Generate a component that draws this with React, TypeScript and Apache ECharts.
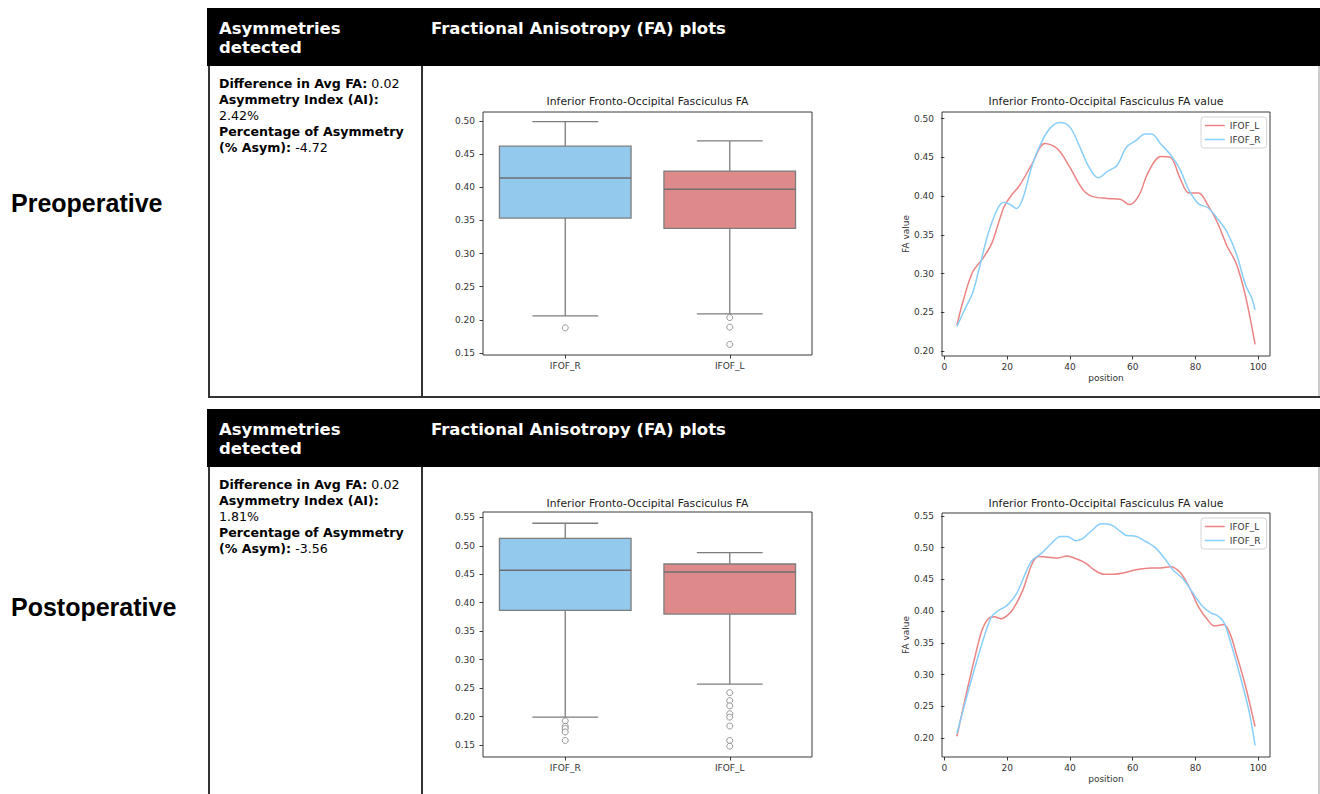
import React, { useEffect, useRef } from "react";
import * as echarts from "echarts";

// ---------- data ----------
const boxCategories = ["IFOF_R", "IFOF_L"];
// [lower whisker, Q1, median, Q3, upper whisker]
const preBoxR = [0.206, 0.3535, 0.414, 0.462, 0.499];
const preBoxL = [0.209, 0.338, 0.397, 0.4245, 0.47];
const preOutR = [0.188];
const preOutL = [0.2035, 0.189, 0.163];
const postBoxR = [0.199, 0.3866, 0.457, 0.513, 0.5395];
const postBoxL = [0.257, 0.38, 0.454, 0.468, 0.488];
const postOutR = [0.1925, 0.183, 0.179, 0.173, 0.158];
const postOutL = [0.242, 0.228, 0.219, 0.205, 0.199, 0.1834, 0.158, 0.148];

const prePosL = [4, 6, 9, 12, 15, 17, 19, 21, 24, 28, 32, 36, 40, 44, 47, 52, 56, 59, 62, 65, 69, 72, 75, 78, 81, 84, 87, 90, 93, 96, 99];
const preValL = [0.2335, 0.265, 0.302, 0.318, 0.338, 0.362, 0.386, 0.399, 0.414, 0.442, 0.468, 0.461, 0.437, 0.409, 0.3996, 0.397, 0.396, 0.389, 0.401, 0.431, 0.451, 0.45, 0.424, 0.404, 0.404, 0.388, 0.366, 0.336, 0.313, 0.27, 0.2086];
const prePosR = [4, 7, 9, 11, 14, 17, 19, 21, 23, 25, 28, 31, 34, 37, 40, 43, 46, 49, 52, 55, 58, 61, 64, 66, 69, 72, 75, 78, 81, 84, 87, 90, 93, 96, 98, 99];
const preValR = [0.232, 0.258, 0.275, 0.305, 0.352, 0.384, 0.392, 0.389, 0.384, 0.397, 0.44, 0.47, 0.489, 0.495, 0.489, 0.465, 0.438, 0.4236, 0.432, 0.4395, 0.463, 0.4717, 0.48, 0.48, 0.467, 0.4536, 0.435, 0.407, 0.39, 0.385, 0.371, 0.354, 0.326, 0.285, 0.268, 0.253];

const postPosL = [4, 7, 10, 12, 14, 16, 18, 20, 22, 25, 28, 30, 33, 36, 39, 42, 45, 48, 51, 54, 57, 60, 63, 66, 69, 72, 75, 78, 81, 84, 86, 89, 91, 93, 96, 99];
const postValL = [0.203, 0.27, 0.333, 0.37, 0.388, 0.391, 0.388, 0.393, 0.404, 0.433, 0.475, 0.486, 0.485, 0.4835, 0.4866, 0.4824, 0.4756, 0.464, 0.458, 0.458, 0.46, 0.464, 0.4667, 0.468, 0.468, 0.47, 0.4615, 0.438, 0.4064, 0.3855, 0.3766, 0.379, 0.3645, 0.333, 0.281, 0.218];
const postPosR = [4, 8, 12, 15, 17, 20, 23, 26, 28, 31, 34, 37, 39, 42, 44, 47, 50, 53, 56, 58, 61, 64, 67, 70, 73, 76, 79, 82, 85, 87, 89, 91, 94, 97, 99];
const postValR = [0.207, 0.281, 0.349, 0.391, 0.4, 0.409, 0.4274, 0.4615, 0.48, 0.4913, 0.506, 0.5175, 0.5175, 0.511, 0.514, 0.527, 0.5374, 0.536, 0.526, 0.519, 0.518, 0.51, 0.5007, 0.484, 0.464, 0.451, 0.43, 0.409, 0.397, 0.393, 0.383, 0.354, 0.302, 0.244, 0.1885];

const boxTicksPre = [0.15, 0.2, 0.25, 0.3, 0.35, 0.4, 0.45, 0.5];
const boxTicksPost = [0.15, 0.2, 0.25, 0.3, 0.35, 0.4, 0.45, 0.5, 0.55];
const lineTicksPre = [0.2, 0.25, 0.3, 0.35, 0.4, 0.45, 0.5];
const lineTicksPost = [0.2, 0.25, 0.3, 0.35, 0.4, 0.45, 0.5, 0.55];
const posTicks = [0, 20, 40, 60, 80, 100];

const preStats = ["0.02", "2.42%", "-4.72"];
const postStats = ["0.02", "1.81%", "-3.56"];

// ---------- styles ----------
const MPL = "DejaVu Sans";
const boxFill = ["#93c9ed", "#df8a8a"];
const lineRed = "#ec8383";
const lineBlue = "#87cefa";
const spine = "#3a3a3a";
const boxStroke = "#7d7d7d";

const pairs = (xs: number[], ys: number[]) => xs.map((x, i) => [x, ys[i]]);

function boxSeries(axis: number, r: number[], l: number[]) {
  return {
    type: "custom",
    xAxisIndex: axis,
    yAxisIndex: axis,
    encode: { x: 0, y: [1, 2, 3, 4, 5] },
    data: [
      [0, ...r],
      [1, ...l],
    ],
    renderItem: (params: any, api: any) => {
      const idx = api.value(0);
      const lo = api.coord([idx, api.value(1)]);
      const q1 = api.coord([idx, api.value(2)]);
      const md = api.coord([idx, api.value(3)]);
      const q3 = api.coord([idx, api.value(4)]);
      const hi = api.coord([idx, api.value(5)]);
      const band = api.size([1, 0])[0];
      const half = band * 0.4;
      const cap = band * 0.2;
      const cx = lo[0];
      const ls = { stroke: boxStroke, lineWidth: 1.3 };
      return {
        type: "group",
        children: [
          { type: "line", shape: { x1: cx, y1: q3[1], x2: cx, y2: hi[1] }, style: ls },
          { type: "line", shape: { x1: cx, y1: q1[1], x2: cx, y2: lo[1] }, style: ls },
          { type: "line", shape: { x1: cx - cap, y1: hi[1], x2: cx + cap, y2: hi[1] }, style: ls },
          { type: "line", shape: { x1: cx - cap, y1: lo[1], x2: cx + cap, y2: lo[1] }, style: ls },
          {
            type: "rect",
            shape: { x: cx - half, y: q3[1], width: half * 2, height: q1[1] - q3[1] },
            style: { fill: boxFill[idx], stroke: boxStroke, lineWidth: 1.3 },
          },
          { type: "line", shape: { x1: cx - half, y1: md[1], x2: cx + half, y2: md[1] }, style: { stroke: "#6e6e6e", lineWidth: 1.4 } },
        ],
      };
    },
  };
}

function outliers(axis: number, r: number[], l: number[]) {
  return {
    type: "scatter",
    xAxisIndex: axis,
    yAxisIndex: axis,
    symbol: "circle",
    symbolSize: 6,
    itemStyle: { color: "#ffffff", borderColor: "#7d7d7d", borderWidth: 1 },
    data: [...r.map((v) => [0, v]), ...l.map((v) => [1, v])],
  };
}

function lineSeries(axis: number, name: string, color: string, data: number[][]) {
  return {
    type: "line",
    name,
    xAxisIndex: axis,
    yAxisIndex: axis,
    symbol: "none",
    smooth: 0.35,
    lineStyle: { color, width: 1.5 },
    itemStyle: { color },
    data,
  };
}

const tickLabel = { fontFamily: MPL, fontSize: 9, color: "#333" };

function catX(grid: number) {
  return {
    type: "category",
    gridIndex: grid,
    data: boxCategories,
    boundaryGap: true,
    axisLine: { show: false },
    axisTick: { show: true, alignWithLabel: true, length: 3.5, lineStyle: { color: spine } },
    axisLabel: { ...tickLabel, margin: 6 },
    splitLine: { show: false },
  };
}

function valY(grid: number, min: number, max: number, ticks: number[], name?: string) {
  return {
    type: "value",
    gridIndex: grid,
    min,
    max,
    name,
    nameLocation: "middle",
    nameGap: 31,
    nameTextStyle: { fontFamily: MPL, fontSize: 9, color: "#333" },
    axisLine: { show: false },
    axisTick: { show: true, length: 3.5, lineStyle: { color: spine }, customValues: ticks },
    axisLabel: { ...tickLabel, margin: 8, customValues: ticks, formatter: (v: number) => v.toFixed(2) },
    splitLine: { show: false },
  };
}

function posX(grid: number) {
  return {
    type: "value",
    gridIndex: grid,
    min: -0.75,
    max: 103.75,
    name: "position",
    nameLocation: "middle",
    nameGap: 17,
    nameTextStyle: { fontFamily: MPL, fontSize: 9, color: "#333" },
    axisLine: { show: false },
    axisTick: { show: true, length: 3.5, lineStyle: { color: spine }, customValues: posTicks },
    axisLabel: { ...tickLabel, margin: 6, customValues: posTicks, formatter: (v: number) => String(Math.round(v)) },
    splitLine: { show: false },
  };
}

function gridAt(left: number, top: number, width: number, height: number) {
  return { left, top, width, height, show: true, borderColor: spine, borderWidth: 1, backgroundColor: "transparent", containLabel: false };
}

function legendAt(top: number) {
  return {
    orient: "vertical",
    left: 1201,
    top,
    data: ["IFOF_L", "IFOF_R"],
    itemWidth: 20,
    itemHeight: 9,
    itemGap: 5,
    padding: [4, 6, 4, 3],
    borderColor: "#d4d4d4",
    borderWidth: 1,
    borderRadius: 3,
    backgroundColor: "rgba(255,255,255,0.8)",
    itemStyle: { opacity: 0 },
    lineStyle: { width: 1.5 },
    textStyle: { fontFamily: MPL, fontSize: 9, color: "#333" },
    selectedMode: false,
  };
}

function panelGraphics(dy: number, stats: string[], rowLabel: string, rowY: number) {
  const hdr = { font: `bold 16.5px "${MPL}"`, fill: "#ffffff", verticalAlign: "middle", align: "left" };
  const body = (text: string, y: number) => ({
    type: "text",
    x: 219,
    y: y + dy,
    style: {
      text,
      font: `12.6px "${MPL}"`,
      fill: "#000",
      verticalAlign: "middle",
      align: "left",
      rich: { b: { fontWeight: "bold", fontSize: 12.6, fontFamily: MPL, fill: "#000" } },
    },
  });
  const bottom = dy === 0 ? 397 : 794;
  return [
    { type: "rect", shape: { x: 207, y: 8 + dy, width: 1113, height: 58 }, style: { fill: "#000" } },
    { type: "text", x: 219, y: 28 + dy, style: { ...hdr, text: "Asymmetries" } },
    { type: "text", x: 219, y: 47 + dy, style: { ...hdr, text: "detected" } },
    { type: "text", x: 431, y: 28 + dy, style: { ...hdr, text: "Fractional Anisotropy (FA) plots" } },
    body(`{b|Difference in Avg FA:} ${stats[0]}`, 83),
    body(`{b|Asymmetry Index (AI):}`, 99),
    body(stats[1], 115),
    body(`{b|Percentage of Asymmetry}`, 131),
    body(`{b|(% Asym):} ${stats[2]}`, 147),
    { type: "line", shape: { x1: 209, y1: 66 + dy, x2: 209, y2: bottom }, style: { stroke: "#333", lineWidth: 2 } },
    { type: "line", shape: { x1: 422, y1: 66 + dy, x2: 422, y2: bottom }, style: { stroke: "#333", lineWidth: 2 } },
    { type: "line", shape: { x1: 1319, y1: 66 + dy, x2: 1319, y2: bottom }, style: { stroke: "#999", lineWidth: 1 } },
    {
      type: "text",
      x: 11,
      y: rowY,
      style: { text: rowLabel, font: `bold 25px "Liberation Sans"`, fill: "#000", verticalAlign: "middle", align: "left" },
    },
  ];
}

function plotTitle(x: number, y: number, text: string) {
  return {
    type: "text",
    x,
    y,
    style: { text, font: `10.8px "${MPL}"`, fill: "#222", align: "center", verticalAlign: "middle" },
  };
}

export default function App() {
  const ref = useRef<HTMLDivElement>(null);
  useEffect(() => {
    if (!ref.current) return;
    const chart = echarts.init(ref.current, undefined, { renderer: "svg" });
    const option: any = {
      animation: false,
      backgroundColor: "#ffffff",
      grid: [gridAt(483, 112, 329, 243), gridAt(942, 112, 328, 244), gridAt(483, 512, 329, 245), gridAt(942, 513, 328, 244)],
      xAxis: [catX(0), posX(1), catX(2), posX(3)],
      yAxis: [
        valY(0, 0.147, 0.5136, boxTicksPre),
        valY(1, 0.1937, 0.5085, lineTicksPre, "FA value"),
        valY(2, 0.129, 0.5593, boxTicksPost),
        valY(3, 0.1703, 0.5545, lineTicksPost, "FA value"),
      ],
      legend: [legendAt(117), legendAt(518)],
      series: [
        boxSeries(0, preBoxR, preBoxL),
        outliers(0, preOutR, preOutL),
        lineSeries(1, "IFOF_L", lineRed, pairs(prePosL, preValL)),
        lineSeries(1, "IFOF_R", lineBlue, pairs(prePosR, preValR)),
        boxSeries(2, postBoxR, postBoxL),
        outliers(2, postOutR, postOutL),
        lineSeries(3, "IFOF_L", lineRed, pairs(postPosL, postValL)),
        lineSeries(3, "IFOF_R", lineBlue, pairs(postPosR, postValR)),
      ],
      graphic: [
        ...panelGraphics(0, preStats, "Preoperative", 203),
        { type: "line", shape: { x1: 208, y1: 397, x2: 1320, y2: 397 }, style: { stroke: "#333", lineWidth: 2 } },
        ...panelGraphics(401, postStats, "Postoperative", 607),
        plotTitle(647.5, 101, "Inferior Fronto-Occipital Fasciculus FA"),
        plotTitle(1106, 101, "Inferior Fronto-Occipital Fasciculus FA value"),
        plotTitle(647.5, 503, "Inferior Fronto-Occipital Fasciculus FA"),
        plotTitle(1106, 503, "Inferior Fronto-Occipital Fasciculus FA value"),
      ],
    };
    chart.setOption(option);
    return () => chart.dispose();
  }, []);
  return <div ref={ref} style={{ position: "absolute", left: 0, top: 0, width: 1320, height: 794, background: "#fff" }} />;
}
